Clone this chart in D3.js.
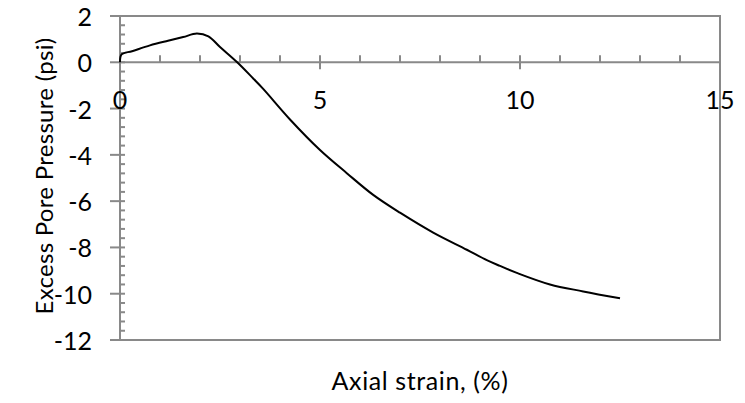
<!DOCTYPE html>
<html>
<head>
<meta charset="utf-8">
<script src="https://cdn.jsdelivr.net/npm/d3@7"></script>
<style>
  html, body { margin: 0; padding: 0; background: #fff; }
  svg { display: block; }
  text { font-family: Lato, "Liberation Sans", sans-serif; fill: #000; }
</style>
</head>
<body>
<svg id="chart" width="745" height="403"></svg>
<script>
// Data
const strain   = [0, 0.04, 0.3, 0.75, 1.2, 1.58, 1.92, 2.21, 2.5, 2.93, 3.33, 3.58, 4.25, 5.0, 5.67, 6.33, 7.0, 7.83, 8.67, 9.17, 9.5, 9.92, 10.75, 11.58, 12.5];
const pressure = [0, 0.34, 0.48, 0.73, 0.93, 1.09, 1.24, 1.12, 0.66, 0, -0.7, -1.15, -2.47, -3.79, -4.79, -5.73, -6.5, -7.36, -8.1, -8.55, -8.8, -9.1, -9.6, -9.9, -10.2];
const xTicks = [0, 5, 10, 15];
const yTicks = [2, 0, -2, -4, -6, -8, -10, -12];
const xTitle = "Axial strain, (%)";
const yTitle = "Excess Pore Pressure (psi)";

const svg = d3.select("#chart");
const L = 120, R = 720, T = 16, B = 340;
const axisColor = "#898989";

const x = d3.scaleLinear().domain([0, 15]).range([L, R]);
const y = d3.scaleLinear().domain([-12, 2]).range([B, T]);

// Plot border (top, right, bottom)
svg.append("path")
  .attr("d", `M${L},${T}H${R}V${B}H${L}`)
  .attr("fill", "none").attr("stroke", axisColor).attr("stroke-width", 2);

// Y axis line
svg.append("line").attr("x1", L).attr("x2", L).attr("y1", T).attr("y2", B)
  .attr("stroke", axisColor).attr("stroke-width", 2);

// Y minor ticks (every 0.4)
const yMinor = d3.range(-12, 2.001, 0.4).filter(v => Math.abs(v / 2 - Math.round(v / 2)) > 1e-6);
svg.append("g").selectAll("line").data(yMinor).join("line")
  .attr("x1", L).attr("x2", L + 5)
  .attr("y1", d => y(d)).attr("y2", d => y(d))
  .attr("stroke", axisColor).attr("stroke-width", 2);

// Y major ticks
svg.append("g").selectAll("line").data(yTicks).join("line")
  .attr("x1", L - 10).attr("x2", L + 5)
  .attr("y1", d => y(d)).attr("y2", d => y(d))
  .attr("stroke", axisColor).attr("stroke-width", 2);

// X axis line at y=0
const y0 = y(0);
svg.append("line").attr("x1", L).attr("x2", R).attr("y1", y0).attr("y2", y0)
  .attr("stroke", axisColor).attr("stroke-width", 2);

// X minor ticks (every 1)
const xMinor = d3.range(1, 15, 1).filter(v => v % 5 !== 0);
svg.append("g").selectAll("line").data(xMinor).join("line")
  .attr("x1", d => x(d)).attr("x2", d => x(d))
  .attr("y1", y0 - 7).attr("y2", y0)
  .attr("stroke", axisColor).attr("stroke-width", 2);

// X major ticks
svg.append("g").selectAll("line").data(xTicks).join("line")
  .attr("x1", d => x(d)).attr("x2", d => x(d))
  .attr("y1", y0 - 7).attr("y2", y0 + 7)
  .attr("stroke", axisColor).attr("stroke-width", 2);

// Y tick labels
svg.append("g").selectAll("text").data(yTicks).join("text")
  .attr("x", 92).attr("y", d => y(d))
  .attr("text-anchor", "end").attr("dominant-baseline", "central")
  .attr("font-size", 25)
  .text(d => d);

// X tick labels
svg.append("g").selectAll("text").data(xTicks).join("text")
  .attr("x", d => x(d)).attr("y", y0 + 37)
  .attr("text-anchor", "middle").attr("dominant-baseline", "central")
  .attr("font-size", 25)
  .text(d => d);

// Curve
const pts = strain.map((s, i) => [s, pressure[i]]);
svg.append("path")
  .datum(pts)
  .attr("fill", "none").attr("stroke", "#000").attr("stroke-width", 2)
  .attr("stroke-linejoin", "round")
  .attr("d", d3.line().x(d => x(d[0])).y(d => y(d[1])).curve(d3.curveCatmullRom.alpha(0.5)));

// Axis titles
svg.append("text")
  .attr("x", (L + R) / 2).attr("y", 390)
  .attr("text-anchor", "middle").attr("font-size", 25)
  .attr("letter-spacing", 0.6)
  .text(xTitle);

svg.append("text")
  .attr("transform", `translate(53,176) rotate(-90)`)
  .attr("text-anchor", "middle").attr("font-size", 24)
  .attr("letter-spacing", 0.3)
  .text(yTitle);
</script>
</body>
</html>
